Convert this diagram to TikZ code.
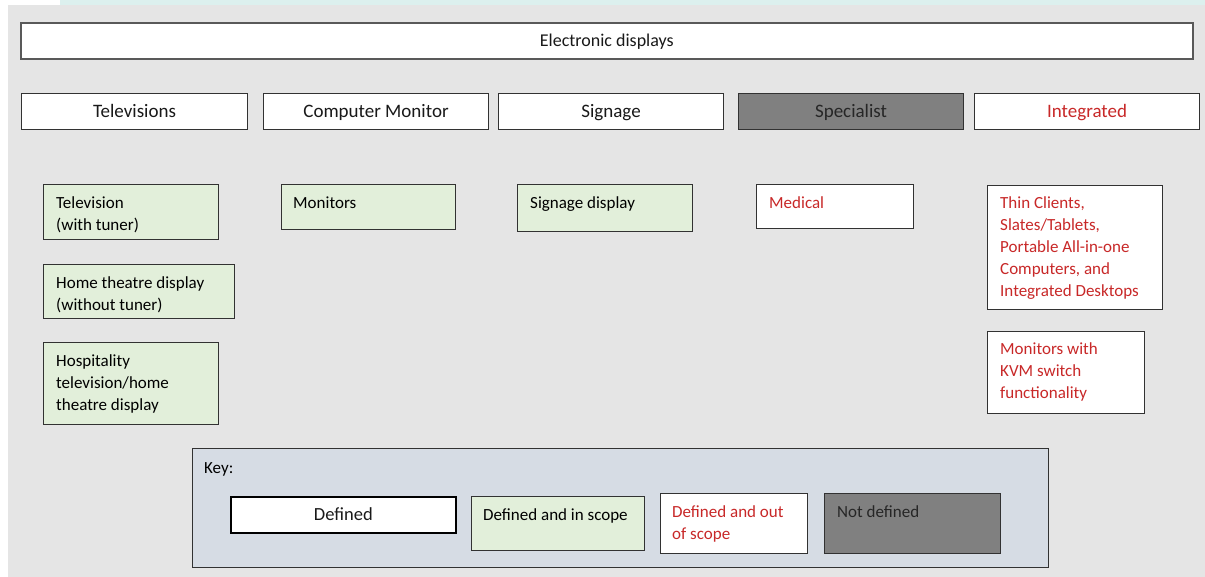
\documentclass[tikz,border=0pt]{standalone}
\usepackage{fontspec}
\setmainfont{Carlito}
\definecolor{bggray}{RGB}{229,229,229}
\definecolor{greenfill}{RGB}{226,239,218}
\definecolor{darkfill}{RGB}{128,128,128}
\definecolor{keyfill}{RGB}{214,220,228}
\definecolor{redtext}{RGB}{200,40,40}
\definecolor{edge}{RGB}{50,50,50}
\definecolor{tealstrip}{RGB}{220,240,238}
\tikzset{
  boxbase/.style={draw=edge, line width=1.1pt, inner sep=0pt, anchor=north west},
  plainbox/.style={boxbase, fill=white},
  greenbox/.style={boxbase, fill=greenfill},
  darkbox/.style={boxbase, fill=darkfill},
  keybox/.style={boxbase, fill=keyfill},
  headtext/.style={font=\fontsize{19}{23}\selectfont, text=black!90, inner sep=0pt, text height=12pt, text depth=0pt},
  itemtext/.style={font=\fontsize{17}{22}\selectfont, anchor=north west, align=left, inner sep=0pt, execute at begin node=\strut},
}
\begin{document}
\begin{tikzpicture}[x=1pt,y=-1pt]
\useasboundingbox (0,0) rectangle (1205,577);
\fill[white] (0,0) rectangle (1205,577);
\fill[tealstrip] (60,0) rectangle (1205,5);
\fill[bggray] (8,5) rectangle (1205,577);

% top
\node[plainbox, draw=black!65, line width=1.6pt, minimum width=1172pt, minimum height=36pt] (top) at (20,22) {};
\node[headtext, font=\fontsize{18}{22}\selectfont] (toptxt) at (top.center) {Electronic displays};

% categories
\node[plainbox, minimum width=226pt, minimum height=36pt] (tv) at (21,93) {};
\node[headtext] at (tv.center) {Televisions};
\node[plainbox, minimum width=225pt, minimum height=36pt] (cm) at (263,93) {};
\node[headtext] at (cm.center) {Computer Monitor};
\node[plainbox, minimum width=225pt, minimum height=36pt] (sg) at (498,93) {};
\node[headtext] at (sg.center) {Signage};
\node[darkbox, minimum width=225pt, minimum height=36pt] (sp) at (738,93) {};
\node[headtext, text=black!85] at (sp.center) {Specialist};
\node[plainbox, minimum width=225pt, minimum height=36pt] (ig) at (974,93) {};
\node[headtext, text=redtext] at (ig.center) {Integrated};

% televisions column
\node[greenbox, minimum width=175pt, minimum height=55pt] (tv1) at (43,184) {};
\node[itemtext] at ([shift={(13,12.6)}]tv1.north west) {Television\\(with tuner)};
\node[greenbox, minimum width=191pt, minimum height=54pt] (tv2) at (43,264) {};
\node[itemtext] at ([shift={(13,12.6)}]tv2.north west) {Home theatre display\\(without tuner)};
\node[greenbox, minimum width=175pt, minimum height=82pt] (tv3) at (43,342) {};
\node[itemtext] at ([shift={(13,12.6)}]tv3.north west) {Hospitality\\television/home\\theatre display};

% monitors
\node[greenbox, minimum width=174pt, minimum height=45pt] (mon) at (281,184) {};
\node[itemtext] at ([shift={(12,8.6)}]mon.north west) {Monitors};

% signage
\node[greenbox, minimum width=175pt, minimum height=47pt] (sgd) at (517,184) {};
\node[itemtext] at ([shift={(13,8.6)}]sgd.north west) {Signage display};

% medical
\node[plainbox, minimum width=157pt, minimum height=44pt] (med) at (756,184) {};
\node[itemtext, text=redtext] at ([shift={(13,8.6)}]med.north west) {Medical};

% integrated
\node[plainbox, minimum width=175pt, minimum height=124pt] (thin) at (987,185) {};
\node[itemtext, text=redtext] at ([shift={(13,11.6)}]thin.north west) {Thin Clients,\\Slates/Tablets,\\Portable All-in-one\\Computers, and\\Integrated Desktops};
\node[plainbox, minimum width=157pt, minimum height=82pt] (kvm) at (987,331) {};
\node[itemtext, text=redtext] at ([shift={(13,11.6)}]kvm.north west) {Monitors with\\KVM switch\\functionality};

% key
\node[keybox, minimum width=856pt, minimum height=119pt] (key) at (192,448) {};
\node[itemtext] (keylbl) at ([shift={(12,9.6)}]key.north west) {Key:};
\node[plainbox, draw=black, line width=1.6pt, minimum width=225pt, minimum height=36pt] (kdef) at (230,496) {};
\node[headtext, font=\fontsize{18.5}{22}\selectfont] at (kdef.center) {Defined};
\node[greenbox, minimum width=173pt, minimum height=54pt] (kin) at (471,496) {};
\node[itemtext] at ([shift={(12,8.6)}]kin.north west) {Defined and in scope};
\node[plainbox, minimum width=147pt, minimum height=60pt] (kout) at (660,493) {};
\node[itemtext, text=redtext] at ([shift={(12,12.6)}]kout.north west) {Defined and out\\of scope};
\node[darkbox, minimum width=176pt, minimum height=60pt] (knd) at (824,493) {};
\node[itemtext, text=black!85] at ([shift={(13,8.6)}]knd.north west) {Not defined};
\end{tikzpicture}
\end{document}
